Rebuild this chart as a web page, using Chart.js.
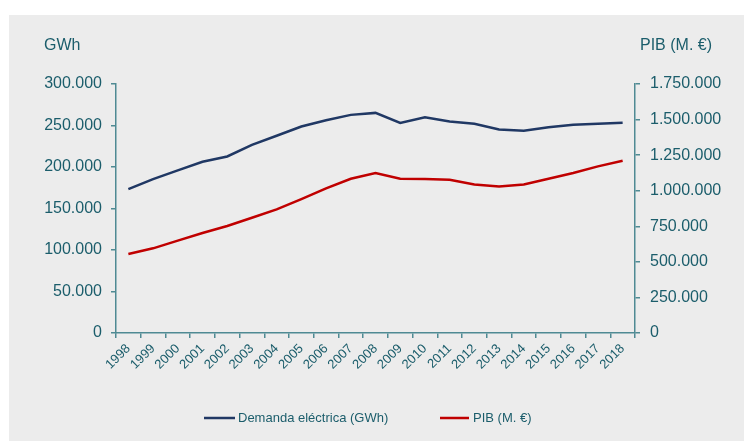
<!DOCTYPE html>
<html>
<head>
<meta charset="utf-8">
<script src="https://cdn.jsdelivr.net/npm/chart.js@4.4.1/dist/chart.umd.min.js"></script>
<style>
html,body{margin:0;padding:0;background:#fff;}
#wrap{position:relative;width:744px;height:441px;}
</style>
</head>
<body>
<div id="wrap"><canvas id="c" width="744" height="441"></canvas></div>
<script>
const years = ["1998","1999","2000","2001","2002","2003","2004","2005","2006","2007","2008","2009","2010","2011","2012","2013","2014","2015","2016","2017","2018"];
const demandaGWh = [173400,185400,195900,206300,212700,226700,237600,248800,256400,262800,265200,253200,260000,254800,252000,245200,243600,248000,250800,252000,253200];
const pibMillones = [555000,595000,649000,703000,752000,810000,869000,941000,1016000,1084000,1124000,1084000,1082000,1077000,1044000,1030000,1044000,1084000,1124000,1171000,1210000];
const leftTicks = {min:0, max:300000, step:50000};
const rightTicks = {min:0, max:1750000, step:250000};
const seriesNames = ["Demanda eléctrica (GWh)", "PIB (M. €)"];
const axisTitles = ["GWh", "PIB (M. €)"];

const TEXT = '#1b5d6b';
const AXIS = '#4f8a93';
const BLUE = '#203864';
const RED = '#c00000';
const FONT = '"Liberation Sans", Arial, sans-serif';

function fmt(v){ return String(v).replace(/\B(?=(\d{3})+(?!\d))/g, '.'); }

const bgPlugin = {
  id:'bg',
  beforeDraw(chart){
    const ctx = chart.ctx;
    ctx.save();
    ctx.fillStyle = '#ffffff';
    ctx.fillRect(0,0,chart.width,chart.height);
    ctx.fillStyle = '#ececec';
    ctx.fillRect(9,15,chart.width-9,chart.height-15);
    ctx.restore();
  }
};

const decoPlugin = {
  id:'deco',
  afterDraw(chart){
    const ctx = chart.ctx;
    ctx.save();
    ctx.fillStyle = TEXT;
    ctx.font = '16px ' + FONT;
    ctx.textBaseline = 'middle';
    ctx.textAlign = 'left';
    ctx.fillText(axisTitles[0], 44, 46);
    ctx.fillText(axisTitles[1], 640, 46);
    // legend
    const items = [
      {x1:204, x2:235, tx:238, color:BLUE, label:chart.data.datasets[0].label},
      {x1:440, x2:469, tx:473, color:RED, label:chart.data.datasets[1].label}
    ];
    ctx.font = '13px ' + FONT;
    items.forEach(it=>{
      ctx.strokeStyle = it.color;
      ctx.lineWidth = 2.5;
      ctx.beginPath();
      ctx.moveTo(it.x1, 418);
      ctx.lineTo(it.x2, 418);
      ctx.stroke();
      ctx.fillStyle = TEXT;
      ctx.fillText(it.label, it.tx, 418.5);
    });
    ctx.restore();
  }
};

const ctx = document.getElementById('c').getContext('2d');
new Chart(ctx, {
  type:'line',
  data:{
    labels: years,
    datasets:[
      {label:seriesNames[0], data:demandaGWh, borderColor:BLUE, backgroundColor:BLUE, borderWidth:2.5, pointRadius:0, yAxisID:'y', tension:0},
      {label:seriesNames[1], data:pibMillones, borderColor:RED, backgroundColor:RED, borderWidth:2.5, pointRadius:0, yAxisID:'y1', tension:0}
    ]
  },
  options:{
    responsive:false,
    animation:false,
    devicePixelRatio:1,
    layout:{padding:{top:84,left:0,right:0,bottom:0}},
    plugins:{legend:{display:false}, tooltip:{enabled:false}},
    scales:{
      x:{
        type:'category',
        offset:true,
        grid:{offset:true, drawOnChartArea:false, drawTicks:true, tickLength:5, color:AXIS, lineWidth:1.5},
        border:{display:true, color:AXIS, width:1.5},
        ticks:{minRotation:45, maxRotation:45, autoSkip:false, color:TEXT, font:{family:FONT, size:13}, padding:3},
        afterFit(s){ s.height = 108; }
      },
      y:{
        position:'left',
        min:leftTicks.min, max:leftTicks.max,
        grid:{drawOnChartArea:false, drawTicks:true, tickLength:5, color:AXIS, lineWidth:1.5},
        border:{display:true, color:AXIS, width:1.5},
        ticks:{stepSize:leftTicks.step, color:TEXT, font:{family:FONT, size:16}, padding:9, callback:v=>fmt(v)},
        afterFit(s){ s.width = 116; }
      },
      y1:{
        position:'right',
        min:rightTicks.min, max:rightTicks.max,
        grid:{drawOnChartArea:false, drawTicks:true, tickLength:5, color:AXIS, lineWidth:1.5},
        border:{display:true, color:AXIS, width:1.5},
        ticks:{stepSize:rightTicks.step, color:TEXT, font:{family:FONT, size:16}, padding:10, callback:v=>fmt(v)},
        afterFit(s){ s.width = 109; }
      }
    }
  },
  plugins:[bgPlugin, decoPlugin]
});
</script>
</body>
</html>
